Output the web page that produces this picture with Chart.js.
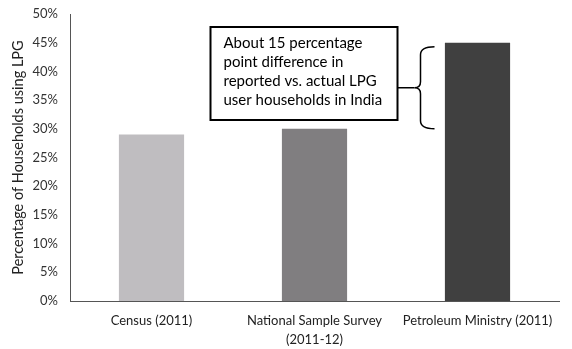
<!DOCTYPE html>
<html><head><meta charset="utf-8">
<script src="https://cdn.jsdelivr.net/npm/chart.js@4.4.1/dist/chart.umd.min.js"></script>
<style>html,body{margin:0;padding:0;background:#fff;}canvas{display:block;}</style>
</head><body>
<canvas id="c" width="572" height="349"></canvas>
<script>
const categories = [["Census (2011)"], ["National Sample Survey", "(2011-12)"], ["Petroleum Ministry (2011)"]];
const values = [29, 30, 45];
const barColors = ["#bfbdc0", "#807e80", "#404040"];
const braceRange = [30, 45];
const noteLines = ["About 15 percentage", "point difference in", "reported vs. actual LPG", "user households in India"];
const FONT = "Lato, 'Open Sans', sans-serif";

const notePlugin = {
  id: 'note',
  afterDraw(chart) {
    const ctx = chart.ctx;
    const ys = chart.scales.y, xs = chart.scales.x;
    const yTop = ys.getPixelForValue(braceRange[1]) + 4;
    const yBot = ys.getPixelForValue(braceRange[0]);
    const yMid = (yTop + yBot) / 2;
    const barLeft = xs.getPixelForValue(2) - 33;
    const bx = barLeft - 24;   // brace spine x
    const tipR = barLeft - 10;
    ctx.save();
    ctx.strokeStyle = '#000';
    ctx.lineWidth = 1.5;
    ctx.beginPath();
    ctx.moveTo(tipR, yTop);
    ctx.quadraticCurveTo(bx, yTop, bx, yTop + 8);
    ctx.lineTo(bx, yMid - 6);
    ctx.quadraticCurveTo(bx, yMid, bx - 6, yMid);
    ctx.quadraticCurveTo(bx, yMid, bx, yMid + 6);
    ctx.lineTo(bx, yBot - 8);
    ctx.quadraticCurveTo(bx, yBot, tipR, yBot);
    ctx.stroke();
    const boxR = bx - 23, boxL = boxR - 187;
    const boxT = 27, boxB = 120;
    ctx.beginPath();
    ctx.moveTo(boxR, yMid);
    ctx.lineTo(bx - 6, yMid);
    ctx.stroke();
    ctx.fillStyle = '#fff';
    ctx.fillRect(boxL, boxT, boxR - boxL, boxB - boxT);
    ctx.lineWidth = 2;
    ctx.strokeRect(boxL, boxT, boxR - boxL, boxB - boxT);
    ctx.fillStyle = '#000';
    ctx.font = "15px " + FONT;
    ctx.textBaseline = 'middle';
    ctx.textAlign = 'left';
    noteLines.forEach((t, i) => ctx.fillText(t, boxL + 13, boxT + 16 + i * 19));
    ctx.restore();
  }
};

new Chart(document.getElementById('c'), {
  type: 'bar',
  data: {
    labels: categories,
    datasets: [{ data: values, backgroundColor: barColors, barPercentage: 0.4, categoryPercentage: 1.0 }]
  },
  options: {
    responsive: false,
    animation: false,
    layout: { padding: { top: 14, right: 13, bottom: 0, left: 10 } },
    plugins: { legend: { display: false }, tooltip: { enabled: false } },
    scales: {
      x: {
        afterFit(s) { s.height = 48; },
        grid: { display: false, drawTicks: false },
        border: { color: '#555', width: 1 },
        ticks: { color: '#222', font: { family: FONT, size: 13, lineHeight: 1.5 }, maxRotation: 0, padding: 10 }
      },
      y: {
        min: 0, max: 50,
        afterFit(s) { s.width = 60; s.paddingTop = 0; s.paddingBottom = 0; },
        grid: { display: false, drawTicks: false },
        border: { color: '#555', width: 1 },
        ticks: { stepSize: 5, color: '#333', font: { family: FONT, size: 13 }, padding: 12, callback: v => v + '%' },
        title: { display: true, text: 'Percentage of Households using LPG', color: '#222', font: { family: FONT, size: 14.5 }, padding: 0 }
      }
    }
  },
  plugins: [notePlugin]
});
</script>
</body></html>
